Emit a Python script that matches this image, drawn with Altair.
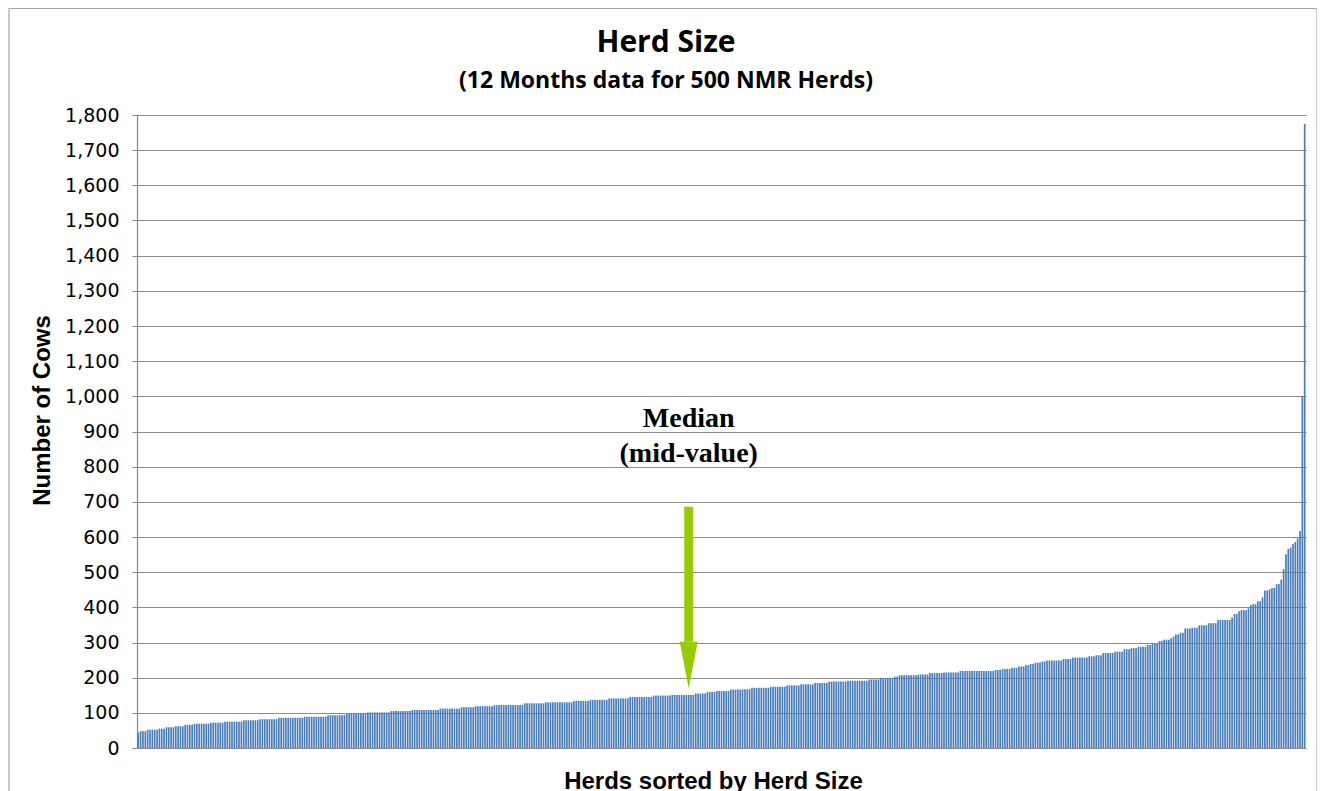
import altair as alt
import pandas as pd

# Sorted herd sizes, stored as plateau levels and how many herds sit on each level
HERD_LEVELS = [
    44, 48, 52, 55, 59, 62, 66, 69, 72, 75, 79, 82, 86, 89, 93,
    94, 97, 101, 105, 108, 112, 116, 119, 122, 127,
    127, 130, 134, 137, 141, 145, 149, 151, 155, 159, 162, 166,
    167, 171, 174, 178, 181, 185, 189, 191, 195, 199, 203, 207, 209, 213,
    215, 219, 222, 225, 228, 232, 235, 239, 243, 246, 249, 253, 257, 261, 264, 270, 274, 281, 284, 288,
    288, 293, 298, 304, 308, 312, 317, 323, 328, 340, 342, 349, 355, 364, 371, 381, 389, 392, 397,
    406, 409, 417, 428, 448, 451, 455, 466, 479, 508, 551, 566, 570, 580, 586, 596, 617, 1000, 1775,
]
RUN_LENGTHS = [
    1, 3, 5, 3, 4, 4, 4, 7, 6, 8, 7, 8, 11, 10, 6,
    2, 9, 10, 9, 12, 9, 6, 8, 13, 8,
    1, 12, 7, 8, 9, 10, 8, 10, 5, 4, 6, 5,
    4, 8, 7, 6, 6, 6, 8, 9, 5, 6, 2, 8, 5, 6,
    7, 15, 3, 4, 3, 3, 2, 2, 3, 2, 7, 4, 7, 3, 3, 5, 4, 3, 3, 2,
    2, 2, 3, 2, 3, 1, 1, 2, 2, 3, 3, 4, 4, 6, 1, 2, 1, 3, 1,
    1, 2, 2, 1, 2, 1, 2, 2, 1, 1, 1, 1, 1, 1, 1, 1, 1, 1, 1,
]
Y_TICKS = list(range(0, 1900, 100))

TITLE = "Herd Size"
SUBTITLE = "(12 Months  data for 500 NMR Herds)"
MEDIAN_HERD = 235
ARROW_SHAFT = [686, 302]
ARROW_HEAD_MID = 236
MEDIAN_LABELS = ["Median", "(mid-value)"]
MEDIAN_LABEL_Y = [913, 813]

cows = []
for level, n in zip(HERD_LEVELS, RUN_LENGTHS):
    cows.extend([level] * n)

df = pd.DataFrame({"herd": list(range(len(cows))), "cows": cows})

x_axis = alt.Axis(
    labels=False, ticks=False, domainColor="#868686", domainWidth=1.2,
    title="Herds sorted by Herd Size", titleFont="Liberation Sans",
    titleFontSize=24, titleFontWeight="bold", titleColor="black",
    titleX=576, titleY=40, titleBaseline="alphabetic", titleAlign="center",
)
x_scale = alt.Scale(paddingInner=0.28, paddingOuter=0.2)

y_axis = alt.Axis(
    values=Y_TICKS, format=",d", labelFont="DejaVu Sans", labelFontSize=19,
    labelColor="black", labelPadding=13, labelOverlap=False, tickSize=5,
    tickColor="#868686", domainColor="#868686", domainWidth=1.2,
    gridColor="#8c8c8c", gridWidth=1.2,
    title="Number of Cows", titleFont="Liberation Sans", titleFontSize=24,
    titleFontWeight="bold", titleColor="black", titleX=-95, titleY=295,
    titleAlign="center", titleBaseline="middle", titleAngle=270,
)
y_scale = alt.Scale(domain=[0, 1800], nice=False)


def xe():
    return alt.X("herd:O", scale=x_scale, axis=x_axis)


def ye():
    return alt.Y("cows:Q", scale=y_scale, axis=y_axis)


bars = alt.Chart(df).mark_bar(color="#4A7EBB").encode(x=xe(), y=ye())

shaft = alt.Chart(alt.Data(values=[{"herd": MEDIAN_HERD, "cows": ARROW_SHAFT[0], "cows2": ARROW_SHAFT[1]}])).mark_rule(
    color="#99CC00", strokeWidth=9, strokeCap="butt"
).encode(x=xe(), y=ye(), y2="cows2:Q")

head = alt.Chart(alt.Data(values=[{"herd": MEDIAN_HERD, "cows": ARROW_HEAD_MID}])).mark_point(
    shape="M-0.386,-1L0.386,-1L0,1Z", filled=True, size=2172, color="#99CC00",
    opacity=1, strokeWidth=0,
).encode(x=xe(), y=ye())

labels = alt.Chart(alt.Data(values=[
    {"herd": MEDIAN_HERD, "cows": MEDIAN_LABEL_Y[i], "label": MEDIAN_LABELS[i]} for i in range(2)
])).mark_text(
    font="Liberation Serif", fontSize=28, fontWeight="bold", color="black",
    baseline="alphabetic", align="center",
).encode(x=xe(), y=ye(), text="label:N")

title_text = alt.Chart(alt.Data(values=[{"t": TITLE}])).mark_text(
    font="Open Sans", fontSize=30, fontWeight="bold", color="black",
    baseline="alphabetic", align="center",
).encode(x=alt.value(529), y=alt.value(-63), text="t:N")

subtitle_text = alt.Chart(alt.Data(values=[{"t": SUBTITLE}])).mark_text(
    font="Open Sans", fontSize=23, fontWeight="bold", color="black",
    baseline="alphabetic", align="center",
).encode(x=alt.value(529), y=alt.value(-27), text="t:N")

frame = alt.Chart(alt.Data(values=[{"k": 1}])).mark_rect(
    fillOpacity=0, stroke="#a6a6a6", strokeWidth=1.2
).encode(
    x=alt.value(-128), x2=alt.value(1180), y=alt.value(-106.5), y2=alt.value(720)
)

chart = alt.layer(frame, bars, shaft, head, labels, title_text, subtitle_text).properties(
    width=1169,
    height=633,
    autosize=alt.AutoSizeParams(type="none"),
    padding={"left": 129, "top": 107, "right": 11, "bottom": 50},
).configure(
    background="white",
    view=alt.ViewConfig(strokeWidth=0),
)

chart.save("out.html", embed_options={"renderer": "svg", "actions": False})
